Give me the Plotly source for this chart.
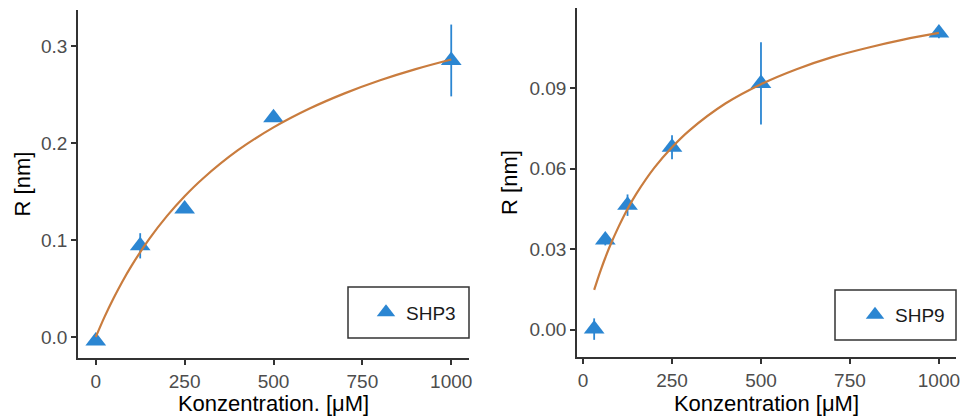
import plotly.graph_objects as go

# ---- data ----
shp3_conc = [0, 125, 250, 500, 1000]
shp3_R = [-0.004, 0.094, 0.132, 0.226, 0.285]
shp3_err = [0.003, 0.013, 0.004, 0.004, 0.037]
shp3_fit_x = [0, 25, 50, 75, 100, 150, 200, 250, 300, 400, 500, 600, 700, 800, 900, 1000]
shp3_fit_y = [0.0, 0.0210, 0.0400, 0.0573, 0.0731, 0.1009, 0.1246, 0.1451, 0.1629,
              0.1925, 0.2160, 0.2352, 0.2511, 0.2646, 0.2761, 0.2860]

shp9_conc = [31.25, 62.5, 125, 250, 500, 1000]
shp9_R = [0.0002, 0.0334, 0.0464, 0.0680, 0.0918, 0.1106]
shp9_err = [0.004, 0.002, 0.004, 0.0045, 0.0153, 0.002]
shp9_fit_x = [31.25, 40, 50, 62.5, 75, 100, 125, 150, 200, 250, 300, 400, 500, 600, 700, 800, 900, 1000]
shp9_fit_y = [0.0148, 0.0184, 0.0223, 0.0268, 0.0310, 0.0384, 0.0450, 0.0507, 0.0603, 0.0680,
              0.0744, 0.0843, 0.0915, 0.0971, 0.1016, 0.1051, 0.1081, 0.1106]

x_ticks = [0, 250, 500, 750, 1000]
y1_ticks = [0.0, 0.1, 0.2, 0.3]
y2_ticks = [0.00, 0.03, 0.06, 0.09]

BLUE = "#2B86D2"
ORANGE = "#C97C3E"
AXC = "#333333"
FONT = "Liberation Sans, Arial, sans-serif"
W, H = 962, 416

fig = go.Figure()

fig.add_trace(go.Scatter(
    x=shp3_conc, y=shp3_R, mode="markers", name="SHP3",
    marker=dict(symbol="triangle-up", size=18, color=BLUE),
    error_y=dict(type="data", array=shp3_err, visible=True, color=BLUE, thickness=1.8, width=0),
    xaxis="x", yaxis="y", legend="legend"))
fig.add_trace(go.Scatter(
    x=shp3_fit_x, y=shp3_fit_y, mode="lines", line=dict(color=ORANGE, width=2.2, shape="spline"),
    showlegend=False, xaxis="x", yaxis="y", hoverinfo="skip"))

fig.add_trace(go.Scatter(
    x=shp9_conc, y=shp9_R, mode="markers", name="SHP9",
    marker=dict(symbol="triangle-up", size=18, color=BLUE),
    error_y=dict(type="data", array=shp9_err, visible=True, color=BLUE, thickness=1.8, width=0),
    xaxis="x2", yaxis="y2", legend="legend2"))
fig.add_trace(go.Scatter(
    x=shp9_fit_x, y=shp9_fit_y, mode="lines", line=dict(color=ORANGE, width=2.2, shape="spline"),
    showlegend=False, xaxis="x2", yaxis="y2", hoverinfo="skip"))

axis_common = dict(showgrid=False, zeroline=False, showline=True, linecolor=AXC, linewidth=1.5,
                   ticks="outside", ticklen=5, tickwidth=1.5, tickcolor=AXC, automargin=False,
                   tickfont=dict(family=FONT, size=19, color="#4D4D4D"),
                   title_font=dict(family=FONT, size=22, color="#000000"))

def px(v):
    return v / W

def py(v):
    return (H - v) / H

fig.update_layout(
    template="none",
    width=W, height=H, margin=dict(l=0, r=0, t=0, b=0),
    paper_bgcolor="white", plot_bgcolor="white",
    xaxis=dict(domain=[px(78), px(469)], range=[-50, 1050], tickvals=x_ticks,
               title=dict(text="Konzentration. [μM]", standoff=2), anchor="y", **axis_common),
    yaxis=dict(domain=[py(358), py(10)], range=[-0.0216, 0.337], tickvals=y1_ticks,
               tickformat=".1f", title=dict(text="R [nm]", standoff=4), anchor="x", **axis_common),
    xaxis2=dict(domain=[px(577), px(956)], range=[-17, 1048], tickvals=x_ticks,
                title=dict(text="Konzentration [μM]", standoff=2), anchor="y2", **axis_common),
    yaxis2=dict(domain=[py(357), py(8)], range=[-0.0102, 0.1199], tickvals=y2_ticks,
                tickformat=".2f", title=dict(text="R [nm]", standoff=6), anchor="x2", **axis_common),
    legend=dict(x=px(366), xanchor="left", y=py(312.5), yanchor="middle",
                bgcolor="rgba(0,0,0,0)", borderwidth=0,
                font=dict(family=FONT, size=19, color="#1A1A1A")),
    legend2=dict(x=px(855), xanchor="left", y=py(315), yanchor="middle",
                 bgcolor="rgba(0,0,0,0)", borderwidth=0,
                 font=dict(family=FONT, size=19, color="#1A1A1A")),
    shapes=[
        dict(type="rect", xref="paper", yref="paper", x0=px(348), x1=px(469), y0=py(338), y1=py(287),
             line=dict(color=AXC, width=1.5), fillcolor="white", layer="below"),
        dict(type="rect", xref="paper", yref="paper", x0=px(835), x1=px(956), y0=py(340), y1=py(290),
             line=dict(color=AXC, width=1.5), fillcolor="white", layer="below"),
    ],
)

fig.write_html("out.html", config={"displayModeBar": False},
               post_script="document.body.style.margin='0';document.body.style.overflow='hidden';")
